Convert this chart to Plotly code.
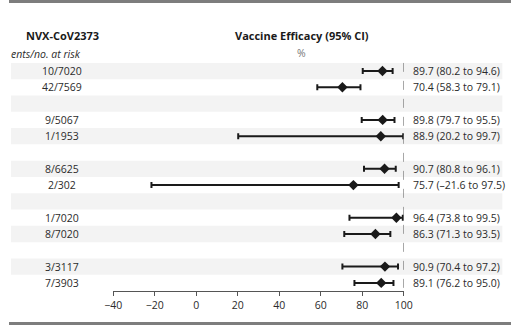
import plotly.graph_objects as go

# Data (rows top to bottom; None = subgroup header rows, blank here)
events = ["10/7020", "42/7569", None, "9/5067", "1/1953", None,
          "8/6625", "2/302", None, "1/7020", "8/7020", None, "3/3117", "7/3903"]
efficacy = [89.7, 70.4, None, 89.8, 88.9, None, 90.7, 75.7, None, 96.4, 86.3, None, 90.9, 89.1]
ci_low = [80.2, 58.3, None, 79.7, 20.2, None, 80.8, -21.6, None, 73.8, 71.3, None, 70.4, 76.2]
ci_high = [94.6, 79.1, None, 95.5, 99.7, None, 96.1, 97.5, None, 99.5, 93.5, None, 97.2, 95.0]
x_ticks = [-40, -20, 0, 20, 40, 60, 80, 100]

W, H = 520, 325
FONT = "Open Sans"
TXT = "#2b2b2b"
FS = 10.5
n = len(events)
rows = list(range(n))

def fmt(v):
    return f"{v:.1f}".replace("-", "\u2013")

fig = go.Figure()

idx = [i for i in rows if efficacy[i] is not None]
fig.add_trace(go.Scatter(
    x=[efficacy[i] for i in idx],
    y=[i for i in idx],
    mode="markers",
    marker=dict(symbol="diamond", size=8, color="#1a1a1a"),
    error_x=dict(type="data", symmetric=False,
                 array=[ci_high[i] - efficacy[i] for i in idx],
                 arrayminus=[efficacy[i] - ci_low[i] for i in idx],
                 color="#1a1a1a", thickness=2, width=3),
    showlegend=False, hoverinfo="skip",
))

shapes = []
# alternating bands
for i in rows:
    if i % 2 == 0:
        shapes.append(dict(type="rect", xref="paper", yref="y",
                           x0=2 / W, x1=511 / W, y0=i - 0.5, y1=i + 0.5,
                           fillcolor="#f3f3f3", line=dict(width=0), layer="below"))
# dashed reference line at 100
shapes.append(dict(type="line", xref="x", yref="y", x0=100, x1=100,
                   y0=-0.5, y1=n - 0.5,
                   line=dict(color="#666666", width=1, dash="dash")))
# top/bottom frame bars
shapes.append(dict(type="rect", xref="paper", yref="paper", x0=0, x1=1,
                   y0=(H - 3) / H, y1=1, fillcolor="#7d7d7d", line=dict(width=0)))
shapes.append(dict(type="rect", xref="paper", yref="paper", x0=0, x1=1,
                   y0=0, y1=3 / H, fillcolor="#7d7d7d", line=dict(width=0)))

ann = []
for i in rows:
    if events[i] is not None:
        ann.append(dict(x=55 / W, y=i, xref="paper", yref="y", text=events[i],
                        showarrow=False, xanchor="center", yanchor="middle",
                        font=dict(family=FONT, size=FS, color=TXT)))
    if efficacy[i] is not None:
        ann.append(dict(x=416 / W, y=i, xref="paper", yref="y",
                        text=f"{fmt(efficacy[i])} ({fmt(ci_low[i])} to {fmt(ci_high[i])})",
                        showarrow=False, xanchor="left", yanchor="middle",
                        font=dict(family=FONT, size=FS, color=TXT)))

ann.append(dict(x=55 / W, y=1 - 36 / H, xref="paper", yref="paper", text="<b>NVX-CoV2373</b>",
                showarrow=False, xanchor="center", yanchor="middle",
                font=dict(family=FONT, size=11, color="#1a1a1a")))
ann.append(dict(x=304 / W, y=1 - 36 / H, xref="paper", yref="paper",
                text="<b>Vaccine Efficacy (95% CI)</b>",
                showarrow=False, xanchor="center", yanchor="middle",
                font=dict(family=FONT, size=11, color="#1a1a1a")))
ann.append(dict(x=303 / W, y=1 - 53 / H, xref="paper", yref="paper", text="%",
                showarrow=False, xanchor="center", yanchor="middle",
                font=dict(family=FONT, size=FS, color="#777777")))
ann.append(dict(x=0, y=1 - 54 / H, xref="paper", yref="paper",
                text="<i>ents/no. at risk</i>",
                showarrow=False, xanchor="left", yanchor="middle",
                font=dict(family=FONT, size=FS, color=TXT)))

y_top_px = 71 - 8.15
y_bot_px = 71 + 16.3 * (n - 1) + 8.15

fig.update_layout(
    width=W, height=H, margin=dict(l=0, r=0, t=0, b=0),
    paper_bgcolor="white", plot_bgcolor="rgba(0,0,0,0)",
    shapes=shapes, annotations=ann,
    xaxis=dict(domain=[108 / W, 409 / W], range=[-40, 100],
               tickvals=x_ticks, ticks="outside", ticklen=4, tickcolor="#555555",
               showline=True, linecolor="#555555", linewidth=1,
               showgrid=False, zeroline=False,
               tickfont=dict(family=FONT, size=FS, color=TXT)),
    yaxis=dict(domain=[(H - y_bot_px) / H, (H - y_top_px) / H],
               range=[n - 0.5, -0.5], visible=False, showgrid=False, zeroline=False),
)

fig.write_html("out.html")
